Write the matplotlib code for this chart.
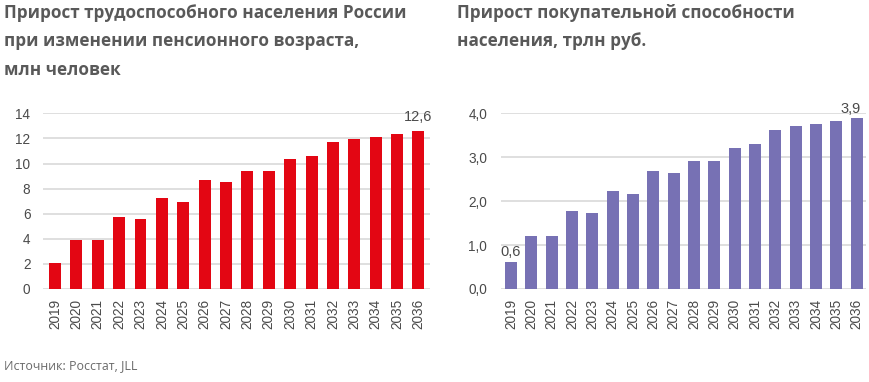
import matplotlib
matplotlib.use("Agg")
import matplotlib.pyplot as plt

years = ["2019", "2020", "2021", "2022", "2023", "2024", "2025", "2026", "2027",
         "2028", "2029", "2030", "2031", "2032", "2033", "2034", "2035", "2036"]
workforce = [2.05, 3.9, 3.9, 5.7, 5.55, 7.22, 6.96, 8.66, 8.53,
             9.4, 9.4, 10.36, 10.6, 11.72, 11.96, 12.11, 12.35, 12.57]
purchasing = [0.62, 1.21, 1.21, 1.77, 1.72, 2.24, 2.16, 2.69, 2.64,
              2.91, 2.91, 3.21, 3.29, 3.63, 3.70, 3.76, 3.83, 3.89]
left_ticks = [0, 2, 4, 6, 8, 10, 12, 14]
left_ticklabels = ["0", "2", "4", "6", "8", "10", "12", "14"]
right_ticks = [0, 1, 2, 3, 4]
right_ticklabels = ["0,0", "1,0", "2,0", "3,0", "4,0"]

title_left = "Прирост трудоспособного населения России\nпри изменении пенсионного возраста,\nмлн человек"
title_right = "Прирост покупательной способности\nнаселения, трлн руб."
source = "Источник: Росстат, JLL"

RED = "#E30613"
PURPLE = "#7771B4"
GRID = "#D9D9D9"
TXT = "#4A4A4A"
TITLE = "#595959"

fig = plt.figure(figsize=(8.7, 3.82), dpi=100)
W, H = 870, 382

def px_axes(x0, x1, ytop, ybot):
    return fig.add_axes([x0 / W, 1 - ybot / H, (x1 - x0) / W, (ybot - ytop) / H])

axL = px_axes(43, 430, 113.3, 289)
axR = px_axes(501, 866, 113.3, 289)

x = list(range(len(years)))

def style(ax, ticks, labels, ypad):
    ax.set_yticks(ticks)
    ax.set_yticklabels(labels, fontfamily="Liberation Sans", fontsize=9.8, color=TXT)
    ax.set_xticks(x)
    ax.set_xticklabels(years, rotation=90, fontfamily="Liberation Sans", fontsize=9.8, color=TXT)
    ax.tick_params(axis="both", length=0)
    ax.tick_params(axis="y", pad=ypad)
    ax.tick_params(axis="x", pad=7)
    for s in ax.spines.values():
        s.set_visible(False)
    ax.set_axisbelow(True)
    ax.yaxis.grid(True, color=GRID, linewidth=1.2)
    ax.set_facecolor("none")

axL.bar(x, workforce, width=0.56, color=RED)
axL.set_xlim(-0.56, 17.54)
axL.set_ylim(0, 14)
style(axL, left_ticks, left_ticklabels, 9)
axL.text(x[-1], workforce[-1] + 0.55, "12,6", ha="center", va="bottom",
         fontfamily="Liberation Sans", fontsize=10.5, color=TXT)

axR.bar(x, purchasing, width=0.6, color=PURPLE)
axR.set_xlim(-0.49, 17.46)
axR.set_ylim(0, 4)
style(axR, right_ticks, right_ticklabels, 10)
axR.text(x[0], purchasing[0] + 0.07, "0,6", ha="center", va="bottom",
         fontfamily="Liberation Sans", fontsize=10.5, color=TXT)
axR.text(x[-1] - 0.3, purchasing[-1] + 0.05, "3,9", ha="center", va="bottom",
         fontfamily="Liberation Sans", fontsize=10.5, color=TXT)

fig.text(4 / W, 1 - 4 / H, title_left, ha="left", va="top", fontfamily="Open Sans",
         fontweight="bold", fontsize=12.3, color=TITLE, linespacing=1.75)
fig.text(457 / W, 1 - 4 / H, title_right, ha="left", va="top", fontfamily="Open Sans",
         fontweight="bold", fontsize=12.3, color=TITLE, linespacing=1.75)
fig.text(4 / W, 1 - 369 / H, source, ha="left", va="baseline", fontfamily="Open Sans",
         fontsize=8.9, color="#6A6A6A")

fig.savefig("out.png", dpi=100)
